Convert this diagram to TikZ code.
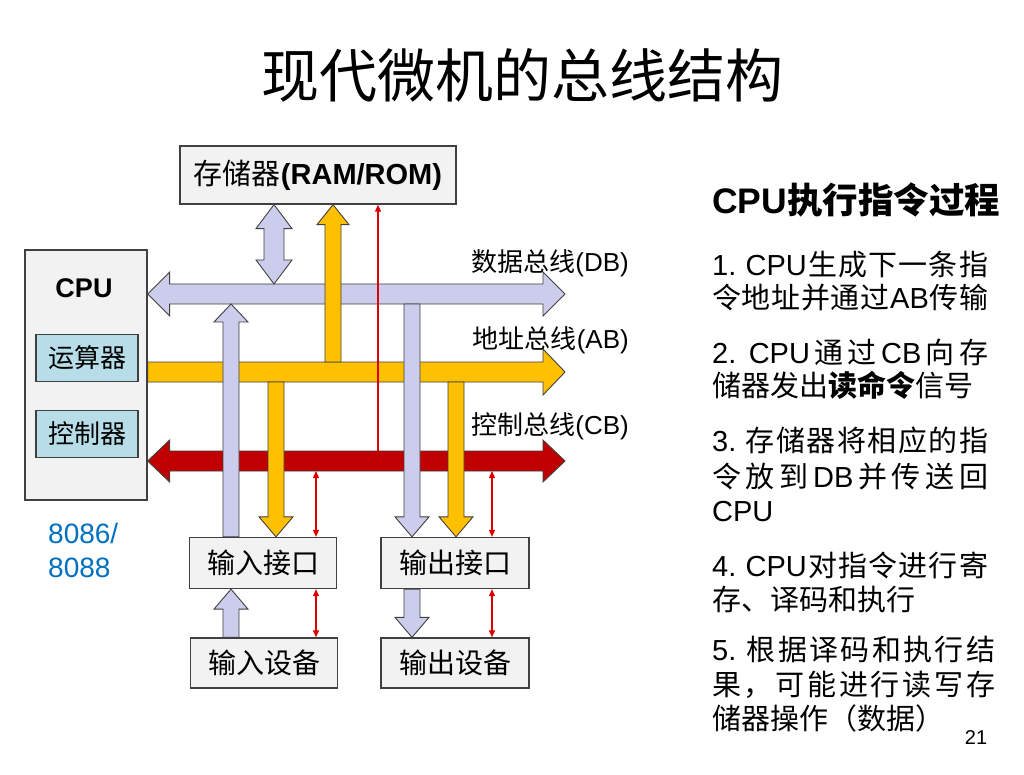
\documentclass[tikz,border=0pt]{standalone}
\usepackage{fontspec}
\setmainfont{Noto Sans CJK SC}
\newfontfamily\lat{Liberation Sans}
\usetikzlibrary{calc}
\usetikzlibrary{arrows.meta}

\definecolor{busblue}{RGB}{204,204,236}
\definecolor{busorange}{RGB}{255,192,0}
\definecolor{busred}{RGB}{192,0,0}
\definecolor{sigred}{RGB}{220,0,0}
\definecolor{boxgray}{RGB}{242,242,242}
\definecolor{unitcyan}{RGB}{183,222,232}
\definecolor{chipblue}{RGB}{0,112,192}
\definecolor{edge}{RGB}{64,64,64}

\tikzset{
    box/.style={draw=edge, fill=boxgray, line width=1.3pt, inner sep=0pt, font=\fontsize{28}{32}\selectfont},
    unit/.style={draw=edge, fill=unitcyan, line width=1.3pt, inner sep=0pt, minimum width=102pt, minimum height=47pt, font=\fontsize{26}{30}\selectfont},
    fat/.style={draw=edge, line width=0.9pt, line join=miter},
    sig/.style={draw=sigred, line width=1.1pt, >={Triangle[length=7pt,width=6pt]}},
    busname/.style={anchor=east, inner sep=0pt, font=\fontsize{26}{30}\selectfont},
    stepline/.style={anchor=west, inner sep=0pt, font=\fontsize{29}{34}\selectfont}
}

% fat arrow, one head: style, tail, tip, half shaft, half head, head length
\newcommand\fatone[6]{%
    \coordinate (fa) at (#2);
    \coordinate (fb) at (#3);
    \coordinate (hb) at ($(fb)!#6!(fa)$);
    \path[#1] ($(fa)!#4!90:(fb)$) -- ($(hb)!#4!90:(fb)$) -- ($(hb)!#5!90:(fb)$) -- (fb)
        -- ($(hb)!#5!-90:(fb)$) -- ($(hb)!#4!-90:(fb)$) -- ($(fa)!#4!-90:(fb)$) -- cycle;}
% fat arrow, two heads
\newcommand\fattwo[6]{%
    \coordinate (fa) at (#2);
    \coordinate (fb) at (#3);
    \coordinate (ha) at ($(fa)!#6!(fb)$);
    \coordinate (hb) at ($(fb)!#6!(fa)$);
    \path[#1] (fa) -- ($(ha)!#5!90:(fb)$) -- ($(ha)!#4!90:(fb)$) -- ($(hb)!#4!90:(fb)$) -- ($(hb)!#5!90:(fb)$) -- (fb)
        -- ($(hb)!#5!-90:(fb)$) -- ($(hb)!#4!-90:(fb)$) -- ($(ha)!#4!-90:(fb)$) -- ($(ha)!#5!-90:(fb)$) -- cycle;}
% spread one line of text over a given width
\makeatletter
\newcommand\jline[2][276pt]{\hbox to #1{\@tfor\jc:=#2\do{{\jc}\hfil}\unskip}}
\makeatother

\begin{document}
\begin{tikzpicture}[x=1pt, y=-1pt]
    \useasboundingbox[fill=white] (0,0) rectangle (1024,775);

    \node (title) at (522,75) {\fontsize{58}{62}\selectfont 现代微机的总线结构};

    % units
    \node[box, minimum width=122pt, minimum height=250pt] (cpu) at (86,375) {};
    \node (cpuname) at (84,288) {\fontsize{27}{30}\selectfont\lat\bfseries CPU};
    \node[unit] (alu) at (87,358) {运算器};
    \node[unit] (ctrl) at (87,434) {控制器};
    \node[anchor=west, inner sep=0pt, align=left, text=chipblue, font=\fontsize{28}{34}\selectfont\lat] (chip) at (48,550) {8086/\\8088};
    \node[box, minimum width=276pt, minimum height=58pt, font=\fontsize{29}{32}\selectfont] (mem) at (318,175) {存储器{\lat\bfseries(RAM/ROM)}};
    \node[box, minimum width=147pt, minimum height=51pt] (inif) at (263,563) {输入接口};
    \node[box, minimum width=148pt, minimum height=51pt] (outif) at (455,563) {输出接口};
    \node[box, minimum width=147pt, minimum height=50pt] (indev) at (264,663) {输入设备};
    \node[box, minimum width=148pt, minimum height=50pt] (outdev) at (455,663) {输出设备};

    % buses
    \coordinate (dbR) at (565,294);
    \coordinate (abR) at (565,372);
    \coordinate (cbR) at (565,461);
    \coordinate (dbL) at (cpu.east |- dbR);
    \coordinate (abL) at (cpu.east |- abR);
    \coordinate (cbL) at (cpu.east |- cbR);
    \fattwo{fat, fill=busblue}{dbL}{dbR}{10pt}{22pt}{22pt}
    \fatone{fat, fill=busorange}{abL}{abR}{10pt}{23pt}{22pt}
    \fattwo{fat, fill=busred}{cbL}{cbR}{10pt}{21pt}{22pt}

    % taps
    \coordinate (memtap) at (274,284);
    \coordinate (abup) at (333,362);
    \coordinate (cbup) at (378,451);
    \coordinate (intap) at (231,304);
    \coordinate (outtap) at (412,304);
    \coordinate (abin) at (276,382);
    \coordinate (about) at (456,382);
    \coordinate (cbin) at (316,471);
    \coordinate (cbout) at (492,471);

    \fattwo{fat, fill=busblue}{mem.south -| memtap}{memtap}{10pt}{18pt}{24pt}
    \fatone{fat, fill=busorange}{abup}{mem.south -| abup}{8pt}{16pt}{20pt}
    \draw[sig, ->] (cbup) -- (mem.south -| cbup);
    \fatone{fat, fill=busblue}{inif.north -| intap}{intap}{8pt}{17pt}{18pt}
    \fatone{fat, fill=busblue}{outtap}{outif.north -| outtap}{8pt}{17pt}{20pt}
    \fatone{fat, fill=busorange}{abin}{inif.north -| abin}{8pt}{17pt}{20pt}
    \fatone{fat, fill=busorange}{about}{outif.north -| about}{8pt}{17pt}{20pt}
    \draw[sig, <->] (cbin) -- (inif.north -| cbin);
    \draw[sig, <->] (cbout) -- (outif.north -| cbout);
    \fatone{fat, fill=busblue}{indev.north -| intap}{inif.south -| intap}{8pt}{17pt}{20pt}
    \fatone{fat, fill=busblue}{outif.south -| outtap}{outdev.north -| outtap}{8pt}{17pt}{20pt}
    \draw[sig, <->] (inif.south -| cbin) -- (indev.north -| cbin);
    \draw[sig, <->] (outif.south -| cbout) -- (outdev.north -| cbout);

    \node[busname] (dbname) at (629,263) {数据总线{\lat(DB)}};
    \node[busname] (abname) at (629,340) {地址总线{\lat(AB)}};
    \node[busname] (cbname) at (629,426) {控制总线{\lat(CB)}};

    % steps
    \node[anchor=west, inner sep=0pt] (steps) at (712,200) {\fontsize{35.5}{40}\selectfont\bfseries{\lat CPU}执行指令过程};
    \node[stepline] (s1a) at (712,265) {\jline{{\lat 1.~}{\lat CPU}生成下一条指}};
    \node[stepline] (s1b) at (712,298) {\jline{令地址并通过{\lat AB}传输}};
    \node[stepline] (s2a) at (712,352) {\jline{{\lat 2.~}{\lat CPU}通过{\lat CB}向存}};
    \node[stepline] (s2b) at (712,385) {储器发出\textbf{读命令}信号};
    \node[stepline] (s3a) at (712,440) {\jline{{\lat 3.~}存储器将相应的指}};
    \node[stepline] (s3b) at (712,477) {\jline{令放到{\lat DB}并传送回}};
    \node[stepline] (s3c) at (712,512) {\lat CPU};
    \node[stepline] (s4a) at (712,565) {\jline{{\lat 4.~}{\lat CPU}对指令进行寄}};
    \node[stepline] (s4b) at (712,600) {存、译码和执行};
    \node[stepline] (s5a) at (712,650) {\jline[283pt]{{\lat 5.~}根据译码和执行结}};
    \node[stepline] (s5b) at (712,685) {\jline[283pt]{果，可能进行读写存}};
    \node[stepline] (s5c) at (712,718) {储器操作（数据）};
    \node[anchor=center, inner sep=0pt] (page) at (976,738) {\fontsize{20}{24}\selectfont\lat 21};
\end{tikzpicture}
\end{document}
